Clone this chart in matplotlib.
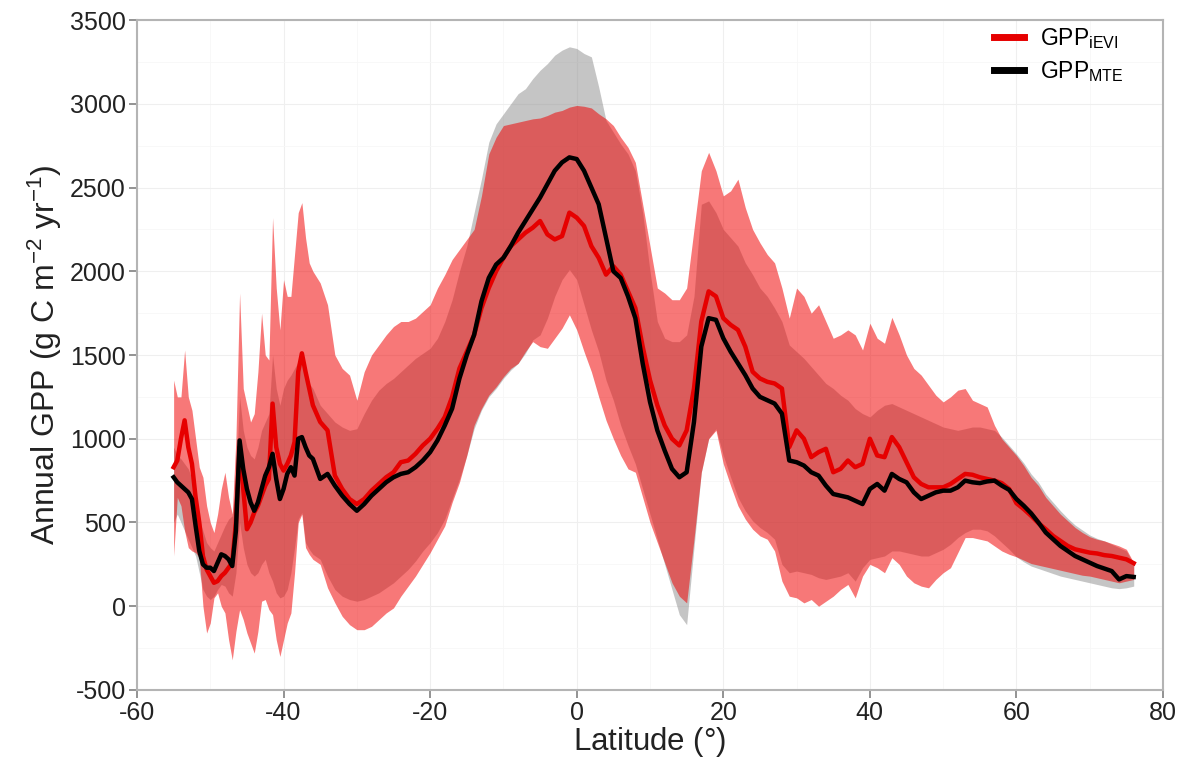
import numpy as np
import matplotlib
matplotlib.use("Agg")
import matplotlib.pyplot as plt
from matplotlib.ticker import MultipleLocator

plt.rcParams['font.family'] = ['Liberation Sans', 'DejaVu Sans']
plt.rcParams['mathtext.fontset'] = 'custom'
plt.rcParams['mathtext.rm'] = 'Liberation Sans'
plt.rcParams['mathtext.it'] = 'Liberation Sans'
plt.rcParams['axes.unicode_minus'] = False

# latitude grid (0.5 deg in the south, 1 deg elsewhere)
lat = ([-55 + 0.5 * i for i in range(39)] + list(range(-35, 77)))

# GPP_MTE mean, lower, upper (g C m-2 yr-1)
mte = [770, 740, 720, 700, 680, 640, 480, 330, 250, 230, 230, 210, 260, 310, 300, 280, 240, 450, 990, 820,
       700, 620, 570, 620, 700, 780, 830, 910, 760, 640, 700, 790, 830, 780, 1000, 1010, 950, 900, 880,
       760, 790, 720, 660, 610, 570, 610, 660, 700, 740, 770, 790, 800, 830, 870, 920, 990, 1080, 1180, 1360,
       1500, 1620, 1820, 1960, 2040, 2080, 2150, 2230, 2300, 2370, 2440, 2520, 2600, 2650, 2680, 2670, 2600, 2500,
       2400, 2200, 2000, 1960, 1850, 1720, 1450, 1220, 1050, 930, 820, 770, 800, 1100, 1550, 1720, 1710, 1600,
       1520, 1450, 1380, 1300, 1250, 1230, 1210, 1150, 870, 860, 840, 800, 780, 720, 670, 660, 650, 630, 610,
       700, 730, 690, 790, 760, 740, 680, 640, 660, 680, 690, 690, 710, 750, 740, 735, 745, 750, 720, 695,
       640, 600, 555, 500, 440, 400, 360, 330, 300, 280, 260, 240, 225, 210, 160, 180, 175]
mte_lo = [500, 550, 500, 450, 400, 350, 300, 200, 100, 60, 40, 60, 100, 130, 120, 80, 60, 200, 500, 350,
          250, 200, 180, 200, 250, 280, 200, 150, 80, 50, 60, 100, 200, 350, 520, 560, 380, 340, 310,
          280, 180, 100, 60, 40, 30, 40, 60, 80, 110, 140, 180, 220, 270, 330, 380, 440, 520, 640, 760,
          900, 1060, 1170, 1250, 1300, 1360, 1410, 1450, 1510, 1590, 1620, 1720, 1850, 1950, 2010, 1950, 1800, 1650,
          1520, 1350, 1230, 1080, 960, 850, 700, 550, 400, 250, 100, -50, -110, 350, 800, 1000, 1060, 900,
          770, 650, 570, 510, 470, 440, 400, 250, 200, 210, 200, 190, 170, 160, 170, 180, 200, 150, 230,
          280, 290, 300, 330, 330, 320, 310, 300, 300, 320, 340, 370, 410, 440, 460, 460, 450, 420, 380, 340,
          295, 265, 240, 225, 210, 195, 180, 170, 160, 150, 140, 130, 120, 110, 105, 110, 120]
mte_hi = [950, 900, 880, 850, 820, 760, 650, 520, 450, 380, 350, 330, 380, 430, 480, 520, 540, 750, 1250, 1050,
          950, 900, 880, 950, 1050, 1100, 1150, 1500, 1300, 1200, 1300, 1350, 1380, 1420, 1460, 1480, 1400, 1330, 1300,
          1200, 1150, 1100, 1070, 1050, 1060, 1150, 1230, 1290, 1330, 1360, 1400, 1440, 1480, 1510, 1540, 1600, 1700, 1830, 2000,
          2150, 2350, 2550, 2770, 2880, 2940, 3000, 3060, 3090, 3150, 3200, 3240, 3290, 3320, 3340, 3330, 3300, 3280,
          3100, 2900, 2830, 2760, 2700, 2600, 2350, 2000, 1700, 1600, 1580, 1580, 1620, 1850, 2400, 2420, 2350, 2250,
          2200, 2150, 2050, 1980, 1900, 1850, 1780, 1700, 1560, 1520, 1480, 1430, 1380, 1330, 1300, 1260, 1230, 1180, 1150,
          1130, 1170, 1200, 1210, 1190, 1170, 1150, 1130, 1110, 1090, 1070, 1060, 1050, 1060, 1070, 1070, 1060, 1050, 1010, 960,
          910, 855, 790, 740, 670, 620, 570, 525, 485, 455, 425, 405, 390, 370, 350, 330, 250]

# GPP_iEVI mean, lower, upper
ievi = [830, 870, 1000, 1110, 950, 850, 650, 500, 300, 220, 180, 140, 150, 180, 200, 230, 260, 500, 950, 700,
        460, 500, 560, 600, 660, 720, 760, 1210, 950, 850, 810, 850, 900, 980, 1400, 1510, 1400, 1300, 1200,
        1100, 1050, 780, 700, 640, 610, 640, 690, 730, 770, 800, 860, 870, 910, 960, 1000, 1060, 1130, 1250, 1420,
        1520, 1620, 1780, 1900, 2000, 2080, 2150, 2190, 2230, 2260, 2300, 2220, 2190, 2210, 2350, 2320, 2270, 2150,
        2080, 1980, 2030, 1980, 1880, 1780, 1550, 1350, 1200, 1080, 1000, 960, 1050, 1300, 1700, 1880, 1850, 1720,
        1680, 1650, 1550, 1400, 1360, 1340, 1330, 1300, 950, 1050, 1000, 890, 920, 940, 800, 820, 870, 830, 850,
        1000, 900, 890, 1010, 950, 860, 770, 730, 710, 710, 710, 730, 760, 790, 785, 770, 760, 750, 735, 700,
        615, 580, 540, 496, 460, 420, 390, 360, 340, 330, 320, 315, 305, 300, 290, 280, 257]
ievi_lo = [300, 650, 600, 450, 350, 330, 320, 290, 0, -160, -100, 50, 80, 0, -40, -200, -320, -150, -20, -80,
           -160, -220, -280, -150, 30, 40, -20, -50, -200, -300, -200, -100, -40, 200, 500, 550, 350, 310, 280,
           250, 110, 20, -60, -110, -140, -140, -120, -80, -40, -10, 60, 120, 180, 250, 320, 400, 480, 620, 740,
           900, 1080, 1180, 1260, 1310, 1370, 1420, 1450, 1520, 1580, 1550, 1540, 1600, 1660, 1740, 1650, 1520, 1400,
           1250, 1110, 1000, 900, 820, 800, 650, 500, 380, 260, 140, 60, 20, 400, 800, 1000, 1050, 850,
           720, 600, 520, 460, 420, 400, 330, 150, 60, 50, 20, 40, 0, 30, 60, 100, 130, 50, 180,
           250, 230, 200, 290, 250, 180, 140, 120, 110, 160, 200, 230, 320, 410, 410, 400, 390, 360, 330, 310,
           295, 275, 255, 245, 235, 225, 215, 205, 195, 185, 180, 170, 160, 150, 140, 150, 160]
ievi_hi = [1350, 1250, 1250, 1530, 1250, 1170, 1000, 830, 770, 600, 500, 440, 550, 700, 800, 650, 550, 1000, 1870, 1300,
           1200, 1100, 1150, 1400, 1750, 1500, 1470, 2320, 1900, 1650, 1950, 1850, 1850, 2100, 2350, 2410, 2200, 2050, 2000,
           1930, 1800, 1500, 1420, 1380, 1230, 1400, 1500, 1560, 1620, 1670, 1700, 1700, 1720, 1760, 1800, 1900, 1980, 2070, 2130,
           2190, 2250, 2450, 2700, 2800, 2870, 2880, 2890, 2900, 2910, 2915, 2930, 2950, 2960, 2980, 2990, 2985, 2975,
           2940, 2910, 2870, 2800, 2740, 2650, 2400, 2150, 1900, 1870, 1830, 1830, 1900, 2250, 2600, 2710, 2600, 2450,
           2480, 2550, 2380, 2250, 2170, 2100, 2050, 1900, 1720, 1900, 1850, 1750, 1800, 1700, 1600, 1620, 1650, 1620, 1530,
           1690, 1600, 1570, 1725, 1620, 1500, 1420, 1380, 1320, 1260, 1220, 1250, 1290, 1300, 1230, 1210, 1190, 1080, 1000, 950,
           900, 840, 770, 720, 650, 600, 550, 510, 470, 440, 415, 400, 390, 375, 360, 340, 260]

fig = plt.figure(figsize=(11.87, 7.73), dpi=100)
ax = fig.add_axes([0.1154, 0.1074, 0.8644, 0.8667])

ax.fill_between(lat, mte_lo, mte_hi, color='#8c8c8c', alpha=0.5, linewidth=0, zorder=2)
ax.fill_between(lat, ievi_lo, ievi_hi, color='#f00000', alpha=0.53, linewidth=0, zorder=3)
ax.plot(lat, ievi, color='#e60000', lw=3.2, zorder=4, label='GPP$_{\\mathrm{iEVI}}$')
ax.plot(lat, mte, color='black', lw=3.2, zorder=5, label='GPP$_{\\mathrm{MTE}}$')

ax.set_xlim(-60, 80)
ax.set_ylim(-500, 3500)
ax.xaxis.set_major_locator(MultipleLocator(20))
ax.xaxis.set_minor_locator(MultipleLocator(10))
ax.yaxis.set_major_locator(MultipleLocator(500))
ax.yaxis.set_minor_locator(MultipleLocator(250))
ax.grid(which='major', color='#efefef', lw=0.8, zorder=0)
ax.grid(which='minor', color='#f7f7f7', lw=0.6, zorder=0)
ax.set_axisbelow(True)

for s in ax.spines.values():
    s.set_color('#b4b4b4')
    s.set_linewidth(1.5)
ax.tick_params(which='major', direction='out', length=6, width=1.3, color='#8a8a8a',
               labelsize=18, labelcolor='#222222', pad=2)
ax.tick_params(which='minor', length=0)

ax.set_xlabel('Latitude ($\\degree$)', fontsize=22.5, color='#222222', labelpad=0)
ax.set_ylabel('Annual GPP (g C m$^{-2}$ yr$^{-1}$)', fontsize=23, color='#222222', labelpad=4)

leg = ax.legend(loc='upper right', bbox_to_anchor=(0.975, 1.012), frameon=False, fontsize=16.5,
                handlelength=1.3, handletextpad=0.7, labelspacing=0.35, borderaxespad=0.2)
for h in leg.get_lines():
    h.set_linewidth(5)

fig.savefig('out.png', dpi=100)
